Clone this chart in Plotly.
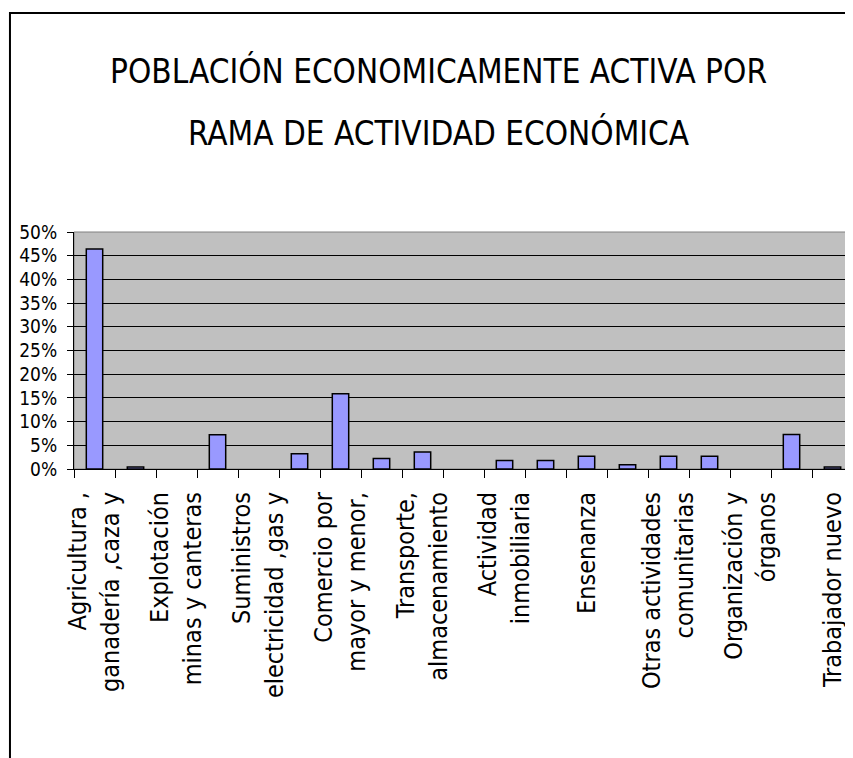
import plotly.graph_objects as go

# ---- data ----
categories = [
    "Agricultura, ganadería, caza y silvicultura",
    "Pesca",
    "Explotación de minas y canteras",
    "Industrias manufactureras",
    "Suministros de electricidad, gas y agua",
    "Construcción",
    "Comercio por mayor y menor",
    "Hoteles y restaurantes",
    "Transporte, almacenamiento y comunicaciones",
    "Intermediación financiera",
    "Actividad inmobiliaria",
    "Administración pública",
    "Ensenanza",
    "Servicios sociales y de salud",
    "Otras actividades comunitarias",
    "Hogares privados",
    "Organización y órganos extraterritoriales",
    "Actividad no especificada",
    "Trabajador nuevo",
]
values = [0.464, 0.004, 0.0, 0.072, 0.0, 0.032, 0.159, 0.022, 0.036, 0.0,
          0.018, 0.018, 0.027, 0.009, 0.027, 0.027, 0.0, 0.073, 0.004]
tick_labels = [
    "Agricultura ,<br>ganadería ,caza y", "",
    "Explotación<br>minas y canteras", "",
    "Suministros<br>electricidad ,gas y", "",
    "Comercio por<br>mayor y menor,", "",
    "Transporte,<br>almacenamiento", "",
    "Actividad<br>inmobiliaria", "",
    "Ensenanza", "",
    "Otras actividades<br>comunitarias", "",
    "Organización y<br>órganos", "",
    "Trabajador nuevo",
]
y_ticks = [0, 0.05, 0.10, 0.15, 0.20, 0.25, 0.30, 0.35, 0.40, 0.45, 0.50]
title_lines = ["POBLACIÓN ECONOMICAMENTE ACTIVA POR", "RAMA DE ACTIVIDAD ECONÓMICA"]

COND = "DejaVu Sans Condensed, Roboto, sans-serif"

# outline only on bars that have a value (Excel draws nothing for zero)
line_widths = [1.5 if v > 0 else 0 for v in values]

fig = go.Figure(
    go.Bar(
        x=categories,
        y=values,
        width=0.4,
        marker=dict(color="#9999FF", line=dict(color="black", width=line_widths)),
        hoverinfo="x+y",
    )
)

fig.update_layout(
    width=845,
    height=750,
    margin=dict(l=66, r=0, t=224, b=289),
    paper_bgcolor="white",
    plot_bgcolor="#C0C0C0",
    showlegend=False,
    annotations=[
        dict(text=title_lines[0], xref="paper", yref="paper", x=0.468, y=1.678,
             xanchor="center", yanchor="middle", showarrow=False,
             font=dict(family=COND, size=33, color="black")),
        dict(text=title_lines[1], xref="paper", yref="paper", x=0.468, y=1.416,
             xanchor="center", yanchor="middle", showarrow=False,
             font=dict(family=COND, size=33, color="black")),
    ],
    shapes=[
        dict(type="rect", xref="paper", yref="paper",
             x0=-0.0822, x1=1.02, y0=-1.5, y1=1.924,
             line=dict(color="black", width=2), fillcolor="rgba(0,0,0,0)",
             layer="below"),
        dict(type="rect", xref="paper", yref="paper",
             x0=0, x1=1, y0=0, y1=1,
             line=dict(color="#808080", width=1), fillcolor="rgba(0,0,0,0)",
             layer="below"),
    ],
)

fig.update_xaxes(
    type="category",
    tickmode="array",
    tickvals=categories,
    ticktext=tick_labels,
    tickangle=-90,
    tickson="boundaries",
    ticks="outside",
    ticklen=8,
    tickcolor="black",
    ticklabelstandoff=12,
    showline=True,
    linecolor="black",
    linewidth=1,
    showgrid=False,
    tickfont=dict(family=COND, size=25, color="black"),
    automargin=False,
)

fig.update_yaxes(
    range=[0, 0.5],
    tickmode="array",
    tickvals=y_ticks,
    tickformat=".0%",
    ticks="outside",
    ticklen=6,
    tickcolor="black",
    ticklabelstandoff=6,
    showline=True,
    linecolor="black",
    linewidth=1,
    showgrid=True,
    gridcolor="black",
    gridwidth=1,
    zeroline=False,
    tickfont=dict(family=COND, size=19, color="black"),
    automargin=False,
)

fig.write_html("out.html")
